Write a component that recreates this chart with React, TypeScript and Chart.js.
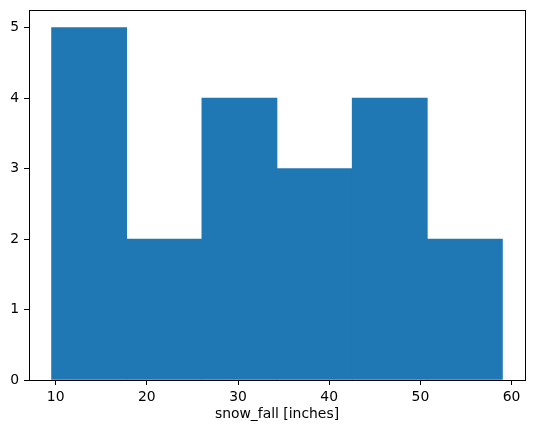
import React, { useEffect, useRef } from "react";
import { Chart, registerables } from "chart.js";

Chart.register(...registerables);

// Histogram bin edges (snow_fall, inches) and counts per bin
const binEdges = [9.55, 17.79, 26.03, 34.28, 42.52, 50.76, 59.0];
const binCounts = [5, 2, 4, 3, 4, 2];
const xTickValues = [10, 20, 30, 40, 50, 60];
const yTickValues = [0, 1, 2, 3, 4, 5];
const xAxisTitle = "snow_fall [inches]";

const FONT = "'DejaVu Sans', sans-serif";

export default function App() {
  const canvasRef = useRef<HTMLCanvasElement | null>(null);

  useEffect(() => {
    document.body.style.margin = "0";
    const canvas = canvasRef.current;
    if (!canvas) return;

    const points = binCounts.map((c, i) => ({
      x: (binEdges[i] + binEdges[i + 1]) / 2,
      y: c,
    }));

    const dataMin = binEdges[0];
    const dataMax = binEdges[binEdges.length - 1];
    const margin = (dataMax - dataMin) * 0.05;

    const spines = {
      id: "spines",
      afterDraw(chart: any) {
        const { ctx, chartArea } = chart;
        const l = Math.round(chartArea.left) + 0.5;
        const r = Math.round(chartArea.right) + 0.5;
        const t = Math.round(chartArea.top) + 0.5;
        const b = Math.round(chartArea.bottom) + 0.5;
        ctx.save();
        ctx.strokeStyle = "#000";
        ctx.lineWidth = 1;
        ctx.strokeRect(l, t, r - l, b - t);
        ctx.restore();
      },
    };

    const chart = new Chart(canvas, {
      type: "bar",
      data: {
        datasets: [
          {
            data: points,
            backgroundColor: "#1f77b4",
            borderWidth: 0,
            barPercentage: 1,
            categoryPercentage: 1,
          },
        ],
      },
      options: {
        animation: false,
        responsive: false,
        devicePixelRatio: 1,
        layout: { padding: { top: 10, right: 9, bottom: 0, left: 0 } },
        plugins: {
          legend: { display: false },
          tooltip: { enabled: false },
        },
        scales: {
          x: {
            type: "linear",
            offset: false,
            min: dataMin - margin,
            max: dataMax + margin,
            afterFit: (s: any) => {
              s.height = 53;
              s.paddingLeft = 0;
              s.paddingRight = 0;
            },
            afterBuildTicks: (s: any) => {
              s.ticks = xTickValues.map((v) => ({ value: v }));
            },
            border: { display: false },
            grid: {
              offset: false,
              drawOnChartArea: false,
              drawTicks: true,
              tickLength: 5,
              color: "#000",
              lineWidth: 1,
            },
            ticks: {
              includeBounds: false,
              padding: 4,
              color: "#000",
              maxRotation: 0,
              font: { family: FONT, size: 13.9 },
            },
            title: {
              display: true,
              text: xAxisTitle,
              color: "#000",
              font: { family: FONT, size: 13.9 },
              padding: { top: 0, bottom: 10 },
            },
          },
          y: {
            type: "linear",
            min: 0,
            max: 5.25,
            afterFit: (s: any) => {
              s.width = 29;
              s.paddingTop = 0;
              s.paddingBottom = 0;
            },
            afterBuildTicks: (s: any) => {
              s.ticks = yTickValues.map((v) => ({ value: v }));
            },
            border: { display: false },
            grid: {
              drawOnChartArea: false,
              drawTicks: true,
              tickLength: 5,
              color: "#000",
              lineWidth: 1,
            },
            ticks: {
              includeBounds: false,
              padding: 5,
              color: "#000",
              font: { family: FONT, size: 13.9 },
            },
          },
        },
      },
      plugins: [spines],
    });

    return () => {
      chart.destroy();
    };
  }, []);

  return (
    <div style={{ position: "absolute", left: 0, top: 0, width: 534, height: 433 }}>
      <canvas ref={canvasRef} width={534} height={433} style={{ width: 534, height: 433 }} />
    </div>
  );
}
